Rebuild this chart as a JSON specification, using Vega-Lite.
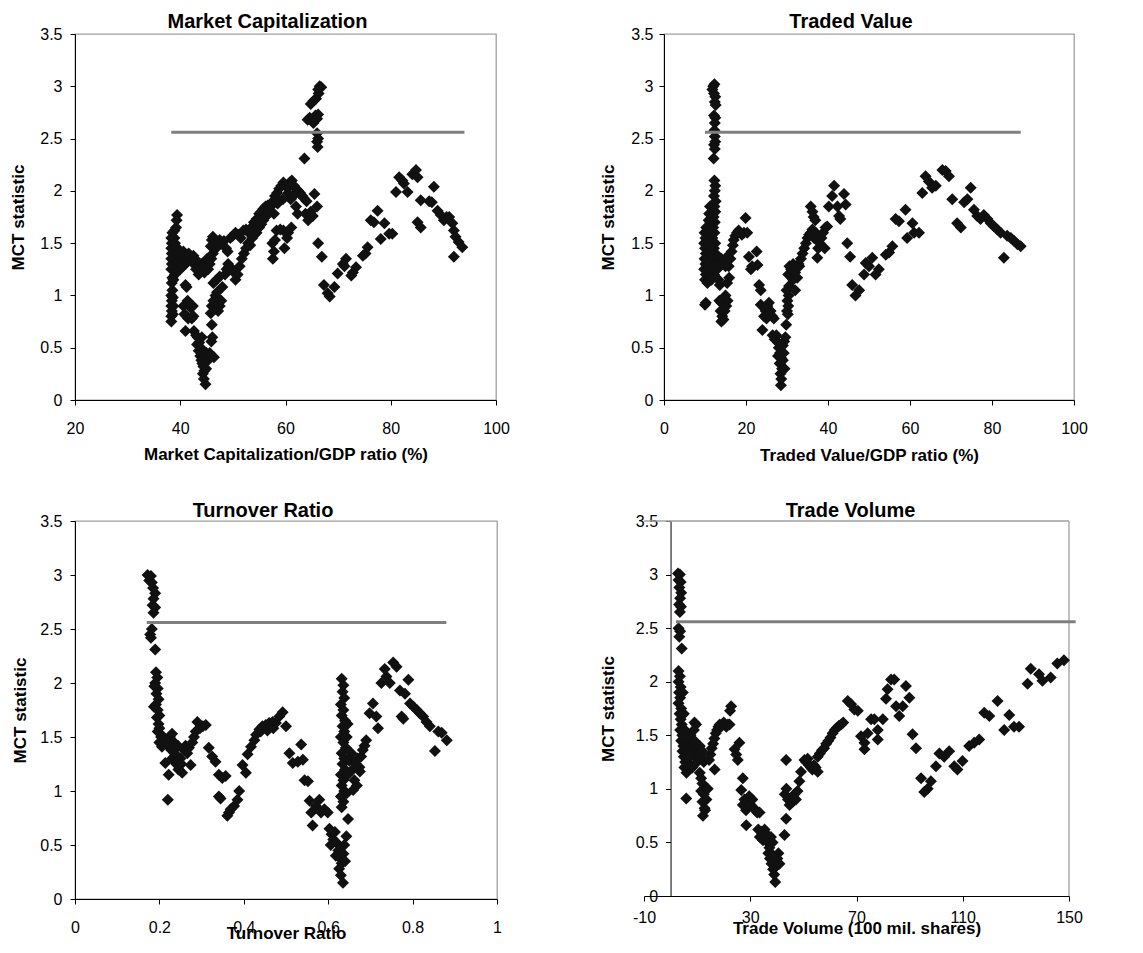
{
"$schema": "https://vega.github.io/schema/vega-lite/v6.json",
"background": "white",
"padding": {"left": 8, "top": 11, "right": 5, "bottom": 5},
"config": {
  "view": {"stroke": "#a0a0a0", "strokeWidth": 1.3},
  "axis": {"grid": false, "labelFont": "Liberation Sans", "labelFontSize": 16, "labelColor": "#000", "titleFont": "Liberation Sans", "titleFontSize": 17, "titleFontWeight": "bold", "titleColor": "#000", "domainColor": "#000", "tickColor": "#000", "tickSize": 5, "labelPadding": 8, "labelFlush": false, "labelOverlap": false},
  "title": {"font": "Liberation Sans", "fontSize": 20, "fontWeight": "bold", "color": "#000", "anchor": "middle", "baseline": "alphabetic"}
},
"datasets": {
"p1": [
{"x":38.3,"y":0.75},{"x":38.3,"y":0.8},{"x":38.4,"y":0.85},{"x":38.3,"y":0.9},{"x":38.4,"y":0.95},{"x":38.3,"y":1.0},{"x":38.5,"y":1.05},{"x":38.4,"y":1.12},{"x":38.5,"y":1.17},{"x":38.3,"y":1.25},{"x":38.4,"y":1.3},{"x":38.3,"y":1.35},{"x":38.4,"y":1.4},{"x":38.3,"y":1.45},{"x":38.4,"y":1.5},{"x":38.3,"y":1.55},{"x":38.5,"y":1.6},{"x":38.9,"y":1.62},{"x":38.9,"y":1.55},{"x":39.0,"y":1.5},{"x":38.9,"y":1.45},{"x":39.0,"y":1.4},{"x":38.9,"y":1.35},{"x":39.1,"y":1.3},{"x":38.9,"y":1.25},{"x":39.0,"y":1.2},{"x":38.6,"y":0.82},{"x":38.7,"y":0.9},{"x":38.6,"y":0.98},{"x":38.7,"y":1.15},{"x":39.2,"y":1.65},{"x":39.4,"y":1.77},{"x":39.3,"y":1.72},{"x":39.5,"y":1.45},{"x":39.6,"y":1.38},{"x":39.5,"y":1.32},{"x":39.8,"y":1.4},{"x":40.0,"y":1.35},{"x":40.2,"y":1.3},{"x":40.4,"y":1.38},{"x":40.6,"y":1.42},{"x":40.8,"y":1.35},{"x":41.0,"y":1.3},{"x":41.3,"y":1.38},{"x":41.6,"y":1.4},{"x":41.9,"y":1.35},{"x":42.2,"y":1.32},{"x":42.5,"y":1.38},{"x":42.8,"y":1.35},{"x":43.1,"y":1.3},{"x":43.4,"y":1.28},{"x":43.7,"y":1.25},{"x":44.0,"y":1.3},{"x":43.5,"y":1.2},{"x":43.0,"y":1.25},{"x":40.0,"y":1.25},{"x":40.5,"y":1.28},
{"x":41.0,"y":1.1},{"x":41.2,"y":1.08},{"x":41.0,"y":0.66},{"x":40.6,"y":0.9},{"x":40.8,"y":0.82},{"x":41.2,"y":0.8},{"x":41.5,"y":0.78},{"x":41.8,"y":0.92},{"x":42.0,"y":0.88},{"x":41.4,"y":0.95},{"x":42.2,"y":0.78},{"x":42.5,"y":0.8},{"x":42.4,"y":0.9},
{"x":42.6,"y":0.66},{"x":43.0,"y":0.62},{"x":43.3,"y":0.6},{"x":43.2,"y":0.53},{"x":43.6,"y":0.55},{"x":43.9,"y":0.5},{"x":43.5,"y":0.47},{"x":44.1,"y":0.6},{"x":43.8,"y":0.42},{"x":44.0,"y":0.38},{"x":44.2,"y":0.35},{"x":44.4,"y":0.32},{"x":44.6,"y":0.28},{"x":44.3,"y":0.25},{"x":44.5,"y":0.2},{"x":44.8,"y":0.15},{"x":44.9,"y":0.3},{"x":45.1,"y":0.37},{"x":45.3,"y":0.42},{"x":45.0,"y":0.45},
{"x":45.6,"y":0.45},{"x":45.9,"y":0.56},{"x":46.1,"y":0.6},{"x":46.4,"y":0.41},{"x":46.0,"y":0.72},
{"x":45.8,"y":0.83},{"x":46.0,"y":0.9},{"x":46.3,"y":0.95},{"x":46.6,"y":0.87},{"x":46.9,"y":0.92},{"x":47.2,"y":0.85},{"x":47.5,"y":0.9},{"x":47.8,"y":0.95},{"x":46.7,"y":1.0},{"x":47.0,"y":1.03},{"x":46.3,"y":1.12},{"x":46.9,"y":1.15},{"x":47.5,"y":1.18},{"x":48.0,"y":1.08},{"x":48.5,"y":1.2},{"x":48.8,"y":1.25},{"x":49.1,"y":1.3},
{"x":45.3,"y":1.25},{"x":45.6,"y":1.3},{"x":45.9,"y":1.35},{"x":46.2,"y":1.4},{"x":45.8,"y":1.47},{"x":46.0,"y":1.53},{"x":46.2,"y":1.56},{"x":46.5,"y":1.5},{"x":46.8,"y":1.45},{"x":47.1,"y":1.5},{"x":47.5,"y":1.53},{"x":47.9,"y":1.5},{"x":48.3,"y":1.52},{"x":48.7,"y":1.45},{"x":49.0,"y":1.42},{"x":44.6,"y":1.22},{"x":44.9,"y":1.3},{"x":45.1,"y":1.35},
{"x":49.5,"y":1.55},{"x":50.0,"y":1.57},{"x":50.5,"y":1.6},{"x":51.0,"y":1.58},{"x":51.5,"y":1.55},{"x":52.0,"y":1.62},{"x":52.5,"y":1.63},{"x":53.0,"y":1.6},{"x":53.5,"y":1.65},{"x":54.0,"y":1.7},{"x":54.5,"y":1.73},{"x":55.0,"y":1.78},{"x":55.4,"y":1.8},{"x":55.8,"y":1.83},{"x":56.2,"y":1.85},{"x":56.6,"y":1.86},
{"x":49.3,"y":1.28},{"x":49.8,"y":1.25},{"x":50.2,"y":1.22},{"x":50.5,"y":1.15},{"x":50.9,"y":1.2},{"x":51.3,"y":1.28},{"x":51.7,"y":1.35},{"x":52.1,"y":1.4},{"x":52.5,"y":1.45},{"x":52.9,"y":1.5},{"x":53.3,"y":1.48},{"x":53.7,"y":1.55},{"x":54.1,"y":1.58},{"x":54.5,"y":1.6},{"x":55.0,"y":1.65},{"x":55.4,"y":1.68},{"x":55.8,"y":1.72},{"x":56.2,"y":1.75},
{"x":56.8,"y":1.8},{"x":57.2,"y":1.85},{"x":57.6,"y":1.9},{"x":58.0,"y":1.95},{"x":58.4,"y":1.98},{"x":58.8,"y":2.02},{"x":59.2,"y":2.05},{"x":59.6,"y":2.08},{"x":60.0,"y":2.05},{"x":60.4,"y":2.03},{"x":60.8,"y":2.08},{"x":61.2,"y":2.1},{"x":61.6,"y":2.05},{"x":62.0,"y":2.02},{"x":62.4,"y":2.0},{"x":62.8,"y":1.98},{"x":63.2,"y":1.95},{"x":63.5,"y":1.93},{"x":60.5,"y":1.98},{"x":61.0,"y":1.92},{"x":61.5,"y":1.95},{"x":62.0,"y":1.85},{"x":62.3,"y":1.78},{"x":59.5,"y":1.92},{"x":58.5,"y":1.88},{"x":57.8,"y":1.78},
{"x":57.6,"y":1.35},{"x":57.8,"y":1.42},{"x":57.5,"y":1.5},{"x":58.0,"y":1.53},{"x":58.3,"y":1.62},{"x":59.0,"y":1.63},{"x":59.6,"y":1.62},{"x":59.8,"y":1.45},{"x":60.3,"y":1.55},{"x":61.1,"y":1.65},{"x":60.5,"y":1.6},
{"x":63.8,"y":1.78},{"x":64.3,"y":1.72},{"x":64.8,"y":1.8},{"x":65.2,"y":1.76},{"x":65.5,"y":1.97},{"x":66.0,"y":1.85},{"x":64.0,"y":1.9},
{"x":63.6,"y":2.31},{"x":64.2,"y":2.68},{"x":64.6,"y":2.7},{"x":65.0,"y":2.68},{"x":65.3,"y":2.65},{"x":65.7,"y":2.72},{"x":66.2,"y":2.73},{"x":66.0,"y":2.69},{"x":64.8,"y":2.83},{"x":65.3,"y":2.86},{"x":65.8,"y":2.88},{"x":66.3,"y":2.93},{"x":66.8,"y":2.99},{"x":66.5,"y":3.0},{"x":66.2,"y":2.97},{"x":66.0,"y":2.55},{"x":66.2,"y":2.5},{"x":66.0,"y":2.47},{"x":66.1,"y":2.42},
{"x":66.2,"y":1.5},{"x":66.9,"y":1.37},{"x":67.3,"y":1.1},{"x":68.4,"y":0.99},{"x":68.0,"y":1.02},{"x":69.3,"y":1.08},{"x":69.9,"y":1.21},{"x":70.9,"y":1.3},{"x":71.5,"y":1.35},{"x":71.2,"y":1.28},{"x":72.5,"y":1.19},{"x":72.8,"y":1.22},{"x":73.4,"y":1.27},{"x":74.7,"y":1.38},{"x":75.2,"y":1.4},{"x":75.6,"y":1.46},{"x":76.2,"y":1.72},{"x":76.8,"y":1.7},{"x":77.5,"y":1.81},{"x":78.1,"y":1.54},{"x":78.8,"y":1.69},{"x":79.7,"y":1.59},{"x":80.3,"y":1.59},{"x":81.0,"y":1.99},{"x":81.6,"y":2.13},{"x":82.2,"y":2.1},{"x":82.5,"y":2.07},{"x":83.2,"y":1.99},{"x":84.1,"y":2.16},{"x":84.8,"y":2.2},{"x":85.1,"y":2.13},{"x":85.7,"y":1.91},{"x":85.1,"y":1.7},{"x":85.7,"y":1.65},{"x":87.3,"y":1.9},{"x":87.8,"y":1.89},{"x":88.2,"y":2.04},{"x":88.9,"y":1.81},{"x":89.5,"y":1.77},{"x":90.1,"y":1.72},{"x":90.6,"y":1.75},{"x":91.1,"y":1.75},{"x":91.7,"y":1.69},{"x":92.0,"y":1.62},{"x":92.3,"y":1.56},{"x":92.9,"y":1.51},{"x":93.6,"y":1.46},{"x":92.0,"y":1.37}
],
"p2": [
{"x":12.0,"y":3.0},{"x":12.3,"y":3.02},{"x":11.8,"y":2.97},{"x":12.2,"y":2.93},{"x":12.5,"y":2.9},{"x":12.4,"y":2.85},{"x":12.6,"y":2.82},{"x":12.2,"y":2.72},{"x":12.5,"y":2.7},{"x":12.4,"y":2.65},{"x":12.3,"y":2.58},{"x":12.4,"y":2.52},{"x":12.5,"y":2.47},{"x":12.2,"y":2.44},{"x":12.4,"y":2.4},{"x":12.1,"y":2.31},{"x":12.3,"y":2.1},{"x":12.5,"y":2.05},{"x":12.4,"y":2.0},{"x":12.2,"y":1.95},{"x":12.6,"y":1.9},{"x":12.3,"y":1.85},{"x":12.5,"y":1.8},{"x":12.1,"y":1.75},{"x":12.4,"y":1.7},{"x":12.0,"y":1.65},{"x":12.3,"y":1.6},{"x":11.8,"y":1.55},{"x":12.5,"y":1.5},{"x":12.2,"y":1.45},{"x":12.6,"y":1.4},{"x":12.0,"y":1.35},{"x":12.4,"y":1.3},{"x":12.7,"y":1.25},{"x":12.2,"y":1.2},
{"x":10.0,"y":1.15},{"x":10.2,"y":1.2},{"x":9.8,"y":1.25},{"x":10.1,"y":1.3},{"x":9.9,"y":1.35},{"x":10.2,"y":1.4},{"x":10.0,"y":1.45},{"x":9.8,"y":1.5},{"x":10.1,"y":1.55},{"x":9.9,"y":1.6},{"x":10.3,"y":1.65},{"x":10.6,"y":1.12},{"x":10.8,"y":1.2},{"x":10.5,"y":1.28},{"x":10.7,"y":1.35},{"x":10.9,"y":1.42},{"x":10.6,"y":1.5},{"x":10.8,"y":1.58},{"x":10.5,"y":1.65},{"x":10.9,"y":1.72},{"x":11.0,"y":1.78},{"x":11.2,"y":1.85},{"x":11.3,"y":1.7},{"x":11.1,"y":1.6},{"x":11.4,"y":1.5},{"x":11.2,"y":1.4},{"x":11.5,"y":1.3},{"x":11.3,"y":1.2},{"x":11.6,"y":1.15},{"x":11.7,"y":1.45},{"x":11.5,"y":1.62},{"x":11.8,"y":1.38},{"x":11.0,"y":1.3},{"x":11.9,"y":1.25},{"x":12.9,"y":1.3},{"x":13.1,"y":1.37},{"x":13.0,"y":1.25},
{"x":10.2,"y":0.93},{"x":10.0,"y":0.91},
{"x":13.3,"y":1.15},{"x":13.6,"y":1.1},{"x":13.2,"y":1.3},{"x":14.0,"y":1.35},{"x":14.5,"y":1.32},{"x":15.0,"y":1.28},{"x":15.4,"y":1.37},
{"x":13.5,"y":0.95},{"x":14.0,"y":0.93},{"x":13.8,"y":0.85},{"x":14.2,"y":0.8},{"x":14.5,"y":0.77},{"x":14.0,"y":0.75},{"x":14.8,"y":0.85},{"x":15.2,"y":0.9},{"x":15.5,"y":0.95},{"x":15.0,"y":1.0},
{"x":15.4,"y":1.12},{"x":15.9,"y":1.17},{"x":15.8,"y":1.28},{"x":16.2,"y":1.35},{"x":16.5,"y":1.42},{"x":16.8,"y":1.48},{"x":17.0,"y":1.53},{"x":17.4,"y":1.57},{"x":17.8,"y":1.6},{"x":18.2,"y":1.62},{"x":18.6,"y":1.6},{"x":19.0,"y":1.58},{"x":19.5,"y":1.6},{"x":19.9,"y":1.74},{"x":20.3,"y":1.6},
{"x":20.7,"y":1.37},{"x":21.5,"y":1.28},{"x":21.2,"y":1.25},{"x":22.6,"y":1.42},{"x":22.8,"y":1.29},{"x":23.2,"y":1.1},{"x":23.6,"y":1.05},{"x":23.6,"y":0.91},{"x":24.0,"y":0.67},
{"x":24.4,"y":0.8},{"x":24.8,"y":0.85},{"x":25.2,"y":0.9},{"x":25.6,"y":0.93},{"x":26.0,"y":0.85},{"x":26.4,"y":0.8},{"x":26.8,"y":0.78},{"x":25.0,"y":0.78},{"x":24.6,"y":0.88},
{"x":26.5,"y":0.62},{"x":27.0,"y":0.58},{"x":27.4,"y":0.62},{"x":27.8,"y":0.55},{"x":28.0,"y":0.5},{"x":28.3,"y":0.45},{"x":27.8,"y":0.42},{"x":28.6,"y":0.4},{"x":28.2,"y":0.35},{"x":28.8,"y":0.3},{"x":28.4,"y":0.25},{"x":28.6,"y":0.2},{"x":28.5,"y":0.14},{"x":29.0,"y":0.38},{"x":29.2,"y":0.45},{"x":29.0,"y":0.52},{"x":29.3,"y":0.56},{"x":29.6,"y":0.6},{"x":29.4,"y":0.3},
{"x":29.8,"y":0.72},{"x":30.0,"y":0.85},{"x":30.3,"y":0.9},{"x":30.1,"y":0.95},{"x":30.4,"y":1.0},{"x":29.9,"y":1.05},{"x":30.2,"y":0.82},{"x":30.5,"y":1.09},
{"x":30.3,"y":1.2},{"x":30.6,"y":1.28},{"x":31.0,"y":1.25},{"x":31.5,"y":1.3},{"x":32.0,"y":1.22},{"x":32.5,"y":1.17},{"x":33.0,"y":1.28},{"x":33.4,"y":1.35},{"x":33.8,"y":1.4},{"x":34.2,"y":1.45},{"x":34.6,"y":1.5},{"x":35.0,"y":1.55},{"x":35.4,"y":1.58},{"x":35.8,"y":1.6},{"x":36.2,"y":1.63},{"x":36.6,"y":1.55},{"x":31.5,"y":1.15},{"x":32.0,"y":1.05},{"x":32.8,"y":1.3},
{"x":35.8,"y":1.85},{"x":36.2,"y":1.8},{"x":36.5,"y":1.75},{"x":36.9,"y":1.72},{"x":37.0,"y":1.6},{"x":37.4,"y":1.36},{"x":37.6,"y":1.45},{"x":38.0,"y":1.5},{"x":38.4,"y":1.55},{"x":38.8,"y":1.6},{"x":39.2,"y":1.45},{"x":39.4,"y":1.65},
{"x":39.8,"y":1.66},{"x":40.2,"y":1.85},{"x":41.0,"y":1.95},{"x":41.5,"y":2.05},{"x":42.3,"y":1.85},{"x":42.7,"y":1.76},{"x":43.0,"y":1.73},{"x":43.9,"y":1.97},{"x":44.3,"y":1.87},{"x":44.7,"y":1.5},{"x":45.4,"y":1.37},
{"x":45.9,"y":1.1},{"x":46.7,"y":1.0},{"x":47.6,"y":1.05},{"x":48.8,"y":1.2},{"x":49.2,"y":1.31},{"x":50.0,"y":1.28},{"x":50.8,"y":1.36},{"x":51.6,"y":1.2},{"x":52.4,"y":1.25},{"x":54.1,"y":1.39},{"x":54.9,"y":1.41},{"x":55.7,"y":1.47},{"x":56.5,"y":1.73},{"x":57.3,"y":1.71},{"x":58.9,"y":1.82},{"x":59.3,"y":1.55},{"x":60.6,"y":1.69},{"x":61.0,"y":1.6},{"x":62.2,"y":1.6},{"x":63.0,"y":1.98},{"x":63.8,"y":2.14},{"x":64.6,"y":2.09},{"x":65.4,"y":2.03},{"x":66.3,"y":2.05},{"x":67.9,"y":2.2},{"x":68.7,"y":2.19},{"x":69.5,"y":2.14},{"x":70.3,"y":1.92},{"x":71.5,"y":1.69},{"x":72.4,"y":1.65},{"x":73.2,"y":1.89},{"x":74.0,"y":1.92},{"x":74.8,"y":2.03},{"x":75.6,"y":1.82},{"x":76.4,"y":1.76},{"x":77.2,"y":1.73},{"x":78.0,"y":1.77},{"x":78.9,"y":1.73},{"x":79.7,"y":1.69},{"x":80.5,"y":1.66},{"x":81.3,"y":1.63},{"x":82.1,"y":1.6},{"x":82.9,"y":1.36},{"x":83.7,"y":1.57},{"x":84.6,"y":1.55},{"x":85.4,"y":1.52},{"x":86.2,"y":1.49},{"x":87.0,"y":1.47}
],
"p3": [
{"x":0.172,"y":3.0},{"x":0.18,"y":2.99},{"x":0.176,"y":2.95},{"x":0.182,"y":2.93},{"x":0.185,"y":2.88},{"x":0.19,"y":2.83},{"x":0.186,"y":2.78},{"x":0.184,"y":2.72},{"x":0.19,"y":2.7},{"x":0.186,"y":2.65},{"x":0.182,"y":2.5},{"x":0.178,"y":2.45},{"x":0.18,"y":2.42},{"x":0.19,"y":2.31},
{"x":0.192,"y":2.1},{"x":0.195,"y":2.05},{"x":0.19,"y":2.0},{"x":0.196,"y":1.95},{"x":0.188,"y":1.97},{"x":0.193,"y":1.9},{"x":0.198,"y":1.85},{"x":0.192,"y":1.8},{"x":0.187,"y":1.78},{"x":0.196,"y":1.75},{"x":0.2,"y":1.7},{"x":0.194,"y":1.68},{"x":0.198,"y":1.62},{"x":0.2,"y":1.58},{"x":0.196,"y":1.55},{"x":0.204,"y":1.5},{"x":0.2,"y":1.45},{"x":0.206,"y":1.41},{"x":0.21,"y":1.5},{"x":0.215,"y":1.46},{"x":0.22,"y":1.42},{"x":0.225,"y":1.5},{"x":0.23,"y":1.53},{"x":0.235,"y":1.45},{"x":0.228,"y":1.38},{"x":0.214,"y":1.26},{"x":0.222,"y":1.15},{"x":0.22,"y":0.92},
{"x":0.23,"y":1.3},{"x":0.236,"y":1.35},{"x":0.24,"y":1.25},{"x":0.245,"y":1.2},{"x":0.25,"y":1.3},{"x":0.254,"y":1.17},{"x":0.258,"y":1.38},{"x":0.262,"y":1.42},{"x":0.266,"y":1.35},{"x":0.27,"y":1.4},{"x":0.274,"y":1.24},{"x":0.278,"y":1.45},{"x":0.282,"y":1.5},{"x":0.286,"y":1.55},{"x":0.29,"y":1.64},{"x":0.296,"y":1.58},{"x":0.303,"y":1.6},{"x":0.31,"y":1.61},{"x":0.244,"y":1.42},{"x":0.252,"y":1.25},
{"x":0.317,"y":1.4},{"x":0.325,"y":1.32},{"x":0.333,"y":1.27},{"x":0.341,"y":1.15},{"x":0.349,"y":1.12},{"x":0.357,"y":1.14},{"x":0.341,"y":0.95},{"x":0.345,"y":0.93},{"x":0.361,"y":0.77},{"x":0.365,"y":0.8},{"x":0.369,"y":0.83},{"x":0.377,"y":0.86},{"x":0.385,"y":0.92},{"x":0.389,"y":1.0},{"x":0.397,"y":1.24},{"x":0.405,"y":1.17},{"x":0.409,"y":1.34},{"x":0.417,"y":1.41},{"x":0.425,"y":1.47},{"x":0.429,"y":1.52},{"x":0.437,"y":1.57},{"x":0.444,"y":1.6},{"x":0.452,"y":1.61},{"x":0.46,"y":1.63},{"x":0.468,"y":1.64},{"x":0.476,"y":1.63},{"x":0.484,"y":1.69},{"x":0.492,"y":1.73},{"x":0.5,"y":1.6},{"x":0.44,"y":1.55},{"x":0.456,"y":1.56},{"x":0.47,"y":1.58},
{"x":0.508,"y":1.35},{"x":0.516,"y":1.26},{"x":0.528,"y":1.27},{"x":0.536,"y":1.43},{"x":0.54,"y":1.29},{"x":0.544,"y":1.1},{"x":0.552,"y":1.09},{"x":0.556,"y":0.91},{"x":0.56,"y":0.8},{"x":0.563,"y":0.68},{"x":0.571,"y":0.86},{"x":0.579,"y":0.92},{"x":0.583,"y":0.8},{"x":0.591,"y":0.83},{"x":0.599,"y":0.8},
{"x":0.603,"y":0.65},{"x":0.608,"y":0.6},{"x":0.612,"y":0.55},{"x":0.606,"y":0.5},{"x":0.616,"y":0.62},{"x":0.62,"y":0.52},{"x":0.624,"y":0.45},{"x":0.618,"y":0.4},{"x":0.628,"y":0.38},{"x":0.632,"y":0.33},{"x":0.626,"y":0.28},{"x":0.63,"y":0.22},{"x":0.635,"y":0.15},{"x":0.636,"y":0.42},{"x":0.64,"y":0.35},{"x":0.638,"y":0.5},{"x":0.643,"y":0.58},{"x":0.647,"y":0.74},
{"x":0.632,"y":2.04},{"x":0.636,"y":1.98},{"x":0.634,"y":1.92},{"x":0.638,"y":1.86},{"x":0.63,"y":1.8},{"x":0.636,"y":1.75},{"x":0.632,"y":1.7},{"x":0.64,"y":1.65},{"x":0.634,"y":1.6},{"x":0.638,"y":1.55},{"x":0.63,"y":1.5},{"x":0.636,"y":1.45},{"x":0.642,"y":1.4},{"x":0.632,"y":1.35},{"x":0.638,"y":1.3},{"x":0.634,"y":1.25},{"x":0.64,"y":1.2},{"x":0.63,"y":1.15},{"x":0.636,"y":1.1},{"x":0.632,"y":1.05},{"x":0.638,"y":1.0},{"x":0.63,"y":0.95},{"x":0.636,"y":0.9},{"x":0.632,"y":0.85},{"x":0.644,"y":1.5},{"x":0.646,"y":1.62},{"x":0.648,"y":1.3},{"x":0.646,"y":1.15},{"x":0.644,"y":0.98},
{"x":0.65,"y":1.28},{"x":0.655,"y":1.35},{"x":0.658,"y":1.2},{"x":0.659,"y":1.01},{"x":0.662,"y":1.1},{"x":0.666,"y":1.25},{"x":0.67,"y":1.3},{"x":0.674,"y":1.22},{"x":0.678,"y":1.32},{"x":0.682,"y":1.38},{"x":0.686,"y":1.42},{"x":0.69,"y":1.47},{"x":0.675,"y":1.18},{"x":0.668,"y":1.05},
{"x":0.698,"y":1.72},{"x":0.706,"y":1.81},{"x":0.714,"y":1.69},{"x":0.718,"y":1.58},{"x":0.726,"y":2.0},{"x":0.734,"y":2.13},{"x":0.738,"y":2.06},{"x":0.746,"y":2.0},{"x":0.754,"y":2.19},{"x":0.762,"y":2.15},{"x":0.77,"y":1.93},{"x":0.774,"y":1.69},{"x":0.778,"y":1.67},{"x":0.782,"y":1.9},{"x":0.79,"y":2.03},{"x":0.794,"y":1.81},{"x":0.802,"y":1.78},{"x":0.81,"y":1.75},{"x":0.817,"y":1.72},{"x":0.825,"y":1.69},{"x":0.833,"y":1.64},{"x":0.841,"y":1.6},{"x":0.853,"y":1.37},{"x":0.861,"y":1.55},{"x":0.869,"y":1.54},{"x":0.881,"y":1.47}
],
"p4": [
{"x":2.8,"y":3.01},{"x":3.5,"y":3.0},{"x":3.0,"y":2.95},{"x":3.8,"y":2.93},{"x":3.3,"y":2.88},{"x":4.0,"y":2.83},{"x":3.6,"y":2.78},{"x":3.2,"y":2.72},{"x":3.9,"y":2.7},{"x":3.5,"y":2.65},{"x":3.0,"y":2.5},{"x":3.6,"y":2.47},{"x":3.3,"y":2.42},{"x":4.2,"y":2.31},
{"x":3.0,"y":2.1},{"x":3.5,"y":2.05},{"x":3.0,"y":2.0},{"x":3.8,"y":1.95},{"x":3.2,"y":1.9},{"x":3.6,"y":1.85},{"x":3.0,"y":1.8},{"x":4.0,"y":1.75},{"x":3.4,"y":1.7},{"x":3.8,"y":1.65},{"x":4.2,"y":1.6},{"x":3.6,"y":1.55},{"x":4.4,"y":1.5},{"x":4.0,"y":1.45},{"x":4.8,"y":1.4},{"x":4.5,"y":1.35},{"x":5.0,"y":1.3},{"x":5.5,"y":1.25},{"x":5.2,"y":1.2},{"x":6.0,"y":1.15},{"x":5.8,"y":1.35},{"x":6.5,"y":1.42},{"x":6.2,"y":1.3},{"x":7.0,"y":1.38},{"x":7.5,"y":1.3},{"x":7.2,"y":1.22},{"x":8.0,"y":1.35},{"x":8.5,"y":1.4},{"x":9.0,"y":1.45},{"x":9.0,"y":1.62},{"x":9.6,"y":1.6},{"x":8.8,"y":1.55},{"x":9.5,"y":1.3},{"x":10.0,"y":1.25},{"x":10.5,"y":1.35},{"x":11.0,"y":1.4},{"x":11.5,"y":1.3},{"x":12.0,"y":1.35},{"x":12.5,"y":1.25},{"x":5.9,"y":0.91},{"x":6.5,"y":1.2},{"x":7.5,"y":1.5},{"x":4.6,"y":1.9},{"x":5.0,"y":1.7},{"x":5.4,"y":1.55},{"x":6.2,"y":1.48},{"x":6.8,"y":1.3},{"x":8.2,"y":1.2},
{"x":11.0,"y":1.15},{"x":11.5,"y":1.1},{"x":12.0,"y":1.05},{"x":11.5,"y":0.98},{"x":12.5,"y":0.95},{"x":12.0,"y":0.88},{"x":12.8,"y":0.82},{"x":12.2,"y":0.75},{"x":13.0,"y":0.8},{"x":13.5,"y":0.9},{"x":14.0,"y":1.0},
{"x":16.6,"y":1.18},{"x":14.5,"y":1.27},{"x":15.0,"y":1.32},{"x":15.5,"y":1.38},{"x":16.0,"y":1.42},{"x":16.5,"y":1.47},{"x":17.0,"y":1.52},{"x":17.5,"y":1.55},{"x":18.0,"y":1.58},{"x":18.5,"y":1.6},{"x":19.0,"y":1.58},{"x":19.5,"y":1.6},{"x":20.0,"y":1.62},{"x":20.5,"y":1.6},{"x":21.0,"y":1.58},{"x":21.6,"y":1.6},{"x":22.2,"y":1.6},{"x":22.8,"y":1.77},{"x":22.4,"y":1.73},
{"x":24.1,"y":1.37},{"x":25.9,"y":1.43},{"x":25.3,"y":1.27},{"x":24.7,"y":1.32},{"x":27.2,"y":1.1},{"x":26.6,"y":0.99},
{"x":27.2,"y":0.85},{"x":27.8,"y":0.9},{"x":28.4,"y":0.8},{"x":29.0,"y":0.88},{"x":29.6,"y":0.93},{"x":30.2,"y":0.85},{"x":30.8,"y":0.9},{"x":31.4,"y":0.82},{"x":32.0,"y":0.8},{"x":32.6,"y":0.78},{"x":28.5,"y":0.66},{"x":33.5,"y":0.78},
{"x":33.0,"y":0.62},{"x":33.6,"y":0.55},{"x":34.2,"y":0.6},{"x":34.8,"y":0.52},{"x":35.4,"y":0.62},{"x":36.0,"y":0.58},{"x":36.6,"y":0.5},{"x":37.2,"y":0.45},{"x":37.8,"y":0.55},{"x":38.4,"y":0.5},{"x":36.8,"y":0.4},{"x":37.4,"y":0.35},{"x":38.0,"y":0.3},{"x":38.6,"y":0.25},{"x":39.0,"y":0.2},{"x":39.4,"y":0.13},{"x":39.8,"y":0.28},{"x":40.2,"y":0.35},{"x":40.6,"y":0.4},{"x":41.0,"y":0.3},{"x":38.6,"y":0.38},
{"x":42.9,"y":0.57},{"x":43.5,"y":0.72},{"x":43.5,"y":1.27},
{"x":43.0,"y":0.95},{"x":43.6,"y":1.0},{"x":44.2,"y":0.9},{"x":44.8,"y":0.85},{"x":45.4,"y":0.92},{"x":46.0,"y":0.88},{"x":46.6,"y":0.95},{"x":47.2,"y":0.9},{"x":47.8,"y":0.98},{"x":48.5,"y":1.07},{"x":49.1,"y":1.16},{"x":50.4,"y":1.27},{"x":51.0,"y":1.25},{"x":51.6,"y":1.28},{"x":52.2,"y":1.22},{"x":52.8,"y":1.2},{"x":53.4,"y":1.18},{"x":54.0,"y":1.22},{"x":54.6,"y":1.2},{"x":55.4,"y":1.16},
{"x":55.4,"y":1.3},{"x":56.2,"y":1.33},{"x":57.0,"y":1.36},{"x":57.8,"y":1.38},{"x":58.6,"y":1.42},{"x":59.4,"y":1.45},{"x":60.2,"y":1.48},{"x":61.0,"y":1.52},{"x":61.8,"y":1.55},{"x":62.6,"y":1.57},{"x":63.4,"y":1.59},{"x":64.2,"y":1.6},{"x":65.0,"y":1.62},
{"x":66.7,"y":1.82},{"x":68.0,"y":1.79},{"x":69.2,"y":1.74},{"x":70.5,"y":1.73},{"x":71.7,"y":1.49},{"x":73.0,"y":1.43},{"x":73.0,"y":1.37},{"x":74.2,"y":1.52},{"x":75.5,"y":1.65},{"x":76.7,"y":1.65},{"x":78.0,"y":1.55},{"x":78.0,"y":1.46},{"x":79.9,"y":1.65},{"x":81.1,"y":1.84},{"x":81.7,"y":1.93},{"x":83.0,"y":2.02},{"x":84.2,"y":2.02},{"x":84.9,"y":1.77},{"x":86.1,"y":1.68},{"x":87.4,"y":1.77},{"x":88.6,"y":1.96},{"x":89.9,"y":1.85},{"x":91.1,"y":1.51},{"x":92.4,"y":1.38},{"x":94.3,"y":1.1},{"x":95.5,"y":0.97},{"x":96.8,"y":1.0},{"x":98.0,"y":1.07},{"x":99.9,"y":1.21},{"x":101.2,"y":1.33},{"x":103.0,"y":1.3},{"x":104.9,"y":1.35},{"x":106.8,"y":1.21},{"x":108.0,"y":1.18},{"x":109.9,"y":1.26},{"x":112.4,"y":1.4},{"x":114.3,"y":1.43},{"x":116.2,"y":1.46},{"x":118.1,"y":1.71},{"x":120.0,"y":1.68},{"x":123.1,"y":1.82},{"x":125.6,"y":1.55},{"x":127.5,"y":1.69},{"x":129.3,"y":1.58},{"x":131.2,"y":1.58},{"x":134.4,"y":1.98},{"x":135.6,"y":2.12},{"x":138.7,"y":2.07},{"x":140.0,"y":2.01},{"x":143.1,"y":2.04},{"x":145.6,"y":2.17},{"x":148.1,"y":2.2}
]
},
"vconcat": [
{"hconcat": [
 {"width": 421, "height": 366,
  "title": {"text": "Market Capitalization", "offset": -6, "dx": -18},
  "layer": [
   {"data": {"name": "p1"},
    "mark": {"type": "point", "shape": "diamond", "filled": true, "color": "#111111", "opacity": 1, "size": 144},
    "encoding": {
     "x": {"field": "x", "type": "quantitative", "scale": {"domain": [20, 100], "nice": false, "zero": false}, "axis": {"values": [20, 40, 60, 80, 100], "title": "Market Capitalization/GDP ratio (%)", "labelPadding": 15, "minExtent": 46, "maxExtent": 46, "titlePadding": 0}},
     "y": {"field": "y", "type": "quantitative", "scale": {"domain": [0, 3.5], "nice": false}, "axis": {"values": [0, 0.5, 1, 1.5, 2, 2.5, 3, 3.5], "format": "~g", "title": "MCT statistic", "minExtent": 44, "maxExtent": 44, "titlePadding": 4}}
    }},
   {"data": {"values": [{}]},
    "mark": {"type": "rule", "color": "#7f7f7f", "strokeWidth": 3},
    "encoding": {"x": {"datum": 38.3}, "x2": {"datum": 94}, "y": {"datum": 2.56}}}
  ]},
 {"width": 410, "height": 366,
  "title": {"text": "Traded Value", "offset": -6, "dx": -18},
  "layer": [
   {"data": {"name": "p2"},
    "mark": {"type": "point", "shape": "diamond", "filled": true, "color": "#111111", "opacity": 1, "size": 144},
    "encoding": {
     "x": {"field": "x", "type": "quantitative", "scale": {"domain": [0, 100], "nice": false, "zero": false}, "axis": {"values": [0, 20, 40, 60, 80, 100], "title": "Traded Value/GDP ratio (%)", "labelPadding": 15, "minExtent": 47, "maxExtent": 47, "titlePadding": 0}},
     "y": {"field": "y", "type": "quantitative", "scale": {"domain": [0, 3.5], "nice": false}, "axis": {"values": [0, 0.5, 1, 1.5, 2, 2.5, 3, 3.5], "format": "~g", "title": "MCT statistic", "labelPadding": 6, "minExtent": 44, "maxExtent": 44, "titlePadding": 3}}
    }},
   {"data": {"values": [{}]},
    "mark": {"type": "rule", "color": "#7f7f7f", "strokeWidth": 3},
    "encoding": {"x": {"datum": 10}, "x2": {"datum": 87}, "y": {"datum": 2.56}}}
  ]}
 ], "spacing": 168, "bounds": "flush"},
{"hconcat": [
 {"width": 422, "height": 378,
  "title": {"text": "Turnover Ratio", "offset": -8, "dx": -23},
  "layer": [
   {"data": {"name": "p3"},
    "mark": {"type": "point", "shape": "diamond", "filled": true, "color": "#111111", "opacity": 1, "size": 144},
    "encoding": {
     "x": {"field": "x", "type": "quantitative", "scale": {"domain": [0, 1], "nice": false, "zero": false}, "axis": {"values": [0, 0.2, 0.4, 0.6, 0.8, 1], "format": "~g", "title": "Turnover Ratio", "labelPadding": 15, "minExtent": 26, "maxExtent": 26, "titlePadding": 0}},
     "y": {"field": "y", "type": "quantitative", "scale": {"domain": [0, 3.5], "nice": false}, "axis": {"values": [0, 0.5, 1, 1.5, 2, 2.5, 3, 3.5], "format": "~g", "title": "MCT statistic", "minExtent": 44, "maxExtent": 44, "titlePadding": 2}}
    }},
   {"data": {"values": [{}]},
    "mark": {"type": "rule", "color": "#7f7f7f", "strokeWidth": 3},
    "encoding": {"x": {"datum": 0.17}, "x2": {"datum": 0.88}, "y": {"datum": 2.56}}}
  ]},
 {"width": 425, "height": 375,
  "view": {"stroke": null},
  "title": {"text": "Trade Volume", "offset": -8, "dx": -6},
  "layer": [
   {"data": {"values": [{}]},
    "mark": {"type": "rule", "color": "#a0a0a0", "strokeWidth": 1.3},
    "encoding": {"y": {"datum": 3.5}}},
   {"data": {"values": [{}]},
    "mark": {"type": "rule", "color": "#a0a0a0", "strokeWidth": 1.3},
    "encoding": {"x": {"datum": 150}}},
   {"data": {"name": "p4"},
    "mark": {"type": "point", "shape": "diamond", "filled": true, "color": "#111111", "opacity": 1, "size": 144},
    "encoding": {
     "x": {"field": "x", "type": "quantitative", "scale": {"domain": [-10, 150], "nice": false, "zero": false}, "axis": {"values": [-10, 30, 70, 110, 150], "labelExpr": "'' + datum.value", "title": "Trade Volume (100 mil. shares)", "labelPadding": 8, "minExtent": 24, "maxExtent": 24, "titlePadding": 0}},
     "y": {"field": "y", "type": "quantitative", "scale": {"domain": [0, 3.5], "nice": false}, "axis": {"values": [0, 0.5, 1, 1.5, 2, 2.5, 3, 3.5], "format": "~g", "title": "MCT statistic", "offset": -26.56, "minExtent": 44, "maxExtent": 44, "titlePadding": 9}}
    }},
   {"data": {"values": [{}]},
    "mark": {"type": "rule", "color": "#7f7f7f", "strokeWidth": 3},
    "encoding": {"x": {"datum": 2}, "x2": {"datum": 152.5}, "y": {"datum": 2.56}}}
  ]}
 ], "spacing": 147, "bounds": "flush"}
],
"spacing": 36,
"bounds": "full"
}
